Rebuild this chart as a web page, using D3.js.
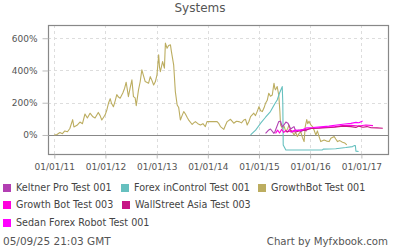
<!DOCTYPE html>
<html lang="en">
  <head>
    <meta charset="UTF-8">
    <title>Systems</title>
    <script src="https://cdn.jsdelivr.net/npm/d3@7"></script>
    <style>
      html, body { margin: 0; padding: 0; background: #fff; }
      body { font-family: 'DejaVu Sans', sans-serif; }
      svg { display: block; }
    </style>
  </head>
  <body>
    <script>
      // series names and colours (legend order)
      const seriesNames = ['Keltner Pro Test 001', 'Forex inControl Test 001', 'GrowthBot Test 001',
        'Growth Bot Test 003', 'WallStreet Asia Test 003', 'Sedan Forex Robot Test 001'];
      const seriesColors = ['#b23fb2', '#66c0bf', '#bcad60', '#ff00dd', '#c71585', '#ff00ff'];

      // GrowthBot Test 001 (gain %)
      const growthBotDates = ['2011-01-01','2011-01-20','2011-02-10','2011-02-28','2011-03-17','2011-04-05','2011-04-22','2011-05-12','2011-05-21','2011-06-12',
        '2011-07-03','2011-07-21','2011-08-08','2011-08-25','2011-09-13','2011-10-01','2011-10-19','2011-11-11','2011-11-24','2011-12-06',
        '2011-12-19','2011-12-30','2012-01-11','2012-01-24','2012-02-04','2012-02-14','2012-02-27','2012-03-10','2012-03-22','2012-04-03',
        '2012-04-15','2012-05-04','2012-05-17','2012-05-28','2012-06-13','2012-06-25','2012-07-08','2012-07-19','2012-07-31','2012-08-08',
        '2012-08-24','2012-09-05','2012-09-17','2012-09-28','2012-10-11','2012-11-04','2012-11-16','2012-11-27','2012-12-10','2012-12-22',
        '2013-01-03','2013-01-15','2013-01-21','2013-01-27','2013-02-12','2013-02-25','2013-03-04','2013-03-16','2013-03-27','2013-04-09',
        '2013-04-16','2013-05-02','2013-05-14','2013-05-27','2013-06-07','2013-06-19','2013-07-01','2013-07-13','2013-07-25','2013-08-06',
        '2013-08-19','2013-09-11','2013-09-22','2013-10-04','2013-10-22','2013-11-09','2013-11-27','2013-12-14','2013-12-26','2014-03-08',
        '2014-03-21','2014-04-01','2014-04-25','2014-05-07','2014-05-19','2014-06-12','2014-07-05','2014-07-24','2014-08-10','2014-08-29',
        '2014-09-15','2014-09-27','2014-10-09','2014-10-22','2014-11-02','2014-11-25','2014-12-07','2014-12-19','2015-01-01','2015-01-13',
        '2015-01-25','2015-02-07','2015-02-17','2015-03-01','2015-03-12','2015-03-24','2015-04-06','2015-04-18','2015-04-24','2015-04-29',
        '2015-05-11','2015-05-22','2015-05-30','2015-06-04','2015-06-18','2015-06-29','2015-07-12','2015-07-25','2015-08-03','2015-08-15',
        '2015-08-27','2015-09-08','2015-09-20','2015-10-02','2015-10-15','2015-10-26','2015-11-07','2015-11-19','2015-11-27','2015-12-08',
        '2015-12-15','2015-12-24','2016-01-06','2016-01-18','2016-01-29','2016-02-11','2016-02-22','2016-03-05','2016-03-17','2016-04-10',
        '2016-04-28','2016-05-16','2016-05-28','2016-06-21','2016-07-02','2016-07-15','2016-07-31','2016-08-19','2016-09-05','2016-09-19'];
      const growthBotValues = [0, 3, 15, 8, 25, 20, 40, 95, 50, 60,
        80, 70, 130, 105, 135, 115, 105, 140, 120, 93,
        110, 125, 155, 200, 225, 195, 175, 210, 250, 235,
        228, 260, 290, 327, 238, 290, 342, 238, 230, 182,
        280, 330, 404, 370, 331, 321, 362, 340, 310, 330,
        373, 497, 420, 393, 455, 414, 570, 538, 555, 559,
        517, 435, 269, 186, 170, 93, 120, 145, 130, 110,
        90, 65, 75, 83, 70, 62, 70, 52, 83, 83,
        70, 52, 35, 60, 83, 97, 73, 85, 83, 75,
        93, 97, 62, 85, 114, 135, 120, 145, 176, 150,
        145, 170, 197, 215, 259, 240, 248, 321, 290, 280,
        300, 248, 150, 62, 40, 55, 20, 40, 62, 30,
        20, 0, 15, -10, 10, 20, -15, -41, 50, 95,
        70, 85, 62, 52, 31, 0, 25, -10, -41, -31,
        -38, -41, -21, -10, -25, -41, -35, -45, -50, -62];

      // Forex inControl Test 001
      const forexDates = ['2014-11-02','2014-12-08','2015-01-13','2015-02-17','2015-03-24','2015-04-22','2015-05-11','2015-05-28','2015-06-09','2015-06-16',
        '2015-06-20','2015-06-23','2015-07-12','2015-10-26','2016-03-29','2016-04-04','2016-07-02','2016-09-12','2016-10-30','2016-11-11',
        '2016-11-19','2016-11-23','2016-12-12'];
      const forexValues = [0, 30, 73, 110, 145, 190, 217, 260, 285, 300,
        200, -62, -93, -93, -93, -88, -85, -78, -72, -66,
        -66, -100, -103];

      // Keltner Pro Test 001
      const keltnerDates = ['2015-02-17','2015-03-12','2015-03-24','2015-04-18','2015-04-26','2015-05-22','2015-06-04','2015-06-16','2015-06-28','2015-07-12',
        '2015-07-27','2015-08-15','2015-09-08','2015-09-20','2015-10-13','2015-10-26','2015-11-16','2015-12-08'];
      const keltnerValues = [10, 31, 37, 10, 23, 83, 85, 50, 62, 80,
        73, 37, 52, 25, 31, 20, 30, 25];

      // Growth Bot Test 003
      const growthBot3Dates = ['2015-04-29','2015-05-14','2015-05-28','2015-06-12','2015-06-26','2015-07-12','2015-07-24','2015-08-07','2015-08-22','2015-09-13',
        '2015-10-04','2015-10-26','2015-12-01','2016-01-06','2016-03-04','2016-04-28','2016-06-25','2016-08-21','2016-10-18','2016-12-14',
        '2017-02-02','2017-03-25'];
      const growthBot3Values = [10, 30, 12, 35, 15, 28, 18, 35, 22, 30,
        25, 32, 35, 40, 45, 48, 52, 58, 60, 56,
        62, 58];

      // WallStreet Asia Test 003
      const wallStreetDates = ['2015-07-12','2015-08-15','2015-09-20','2015-10-26','2015-12-01','2016-01-06','2016-03-04','2016-04-28','2016-06-25','2016-08-21',
        '2016-10-18','2016-11-23','2016-12-14','2017-01-12','2017-02-10','2017-03-11','2017-04-22','2017-06-03'];
      const wallStreetValues = [20, 25, 18, 28, 30, 40, 42, 45, 48, 55,
        52, 47, 55, 48, 52, 45, 44, 42];

      // Sedan Forex Robot Test 001
      const sedanDates = ['2015-08-15','2015-09-20','2015-10-26','2015-12-08','2016-01-20','2016-03-17','2016-05-14','2016-07-09','2016-09-05','2016-10-18',
        '2016-11-23','2016-12-14','2017-01-10'];
      const sedanValues = [15, 30, 28, 45, 46, 50, 55, 62, 68, 72,
        78, 76, 87];

      const yTicks = [0, 200, 400, 600];
      const xTickDates = ['2011-01-01','2012-01-01','2013-01-01','2014-01-01','2015-01-01','2016-01-01','2017-01-01'];
      const xDomain = ['2010-11-17', '2017-07-10'];
      const yDomain = [-118, 682];
      const titleText = 'Systems';
      const footerLeft = '05/09/25 21:03 GMT';
      const footerRight = 'Chart by Myfxbook.com';

      const parse = d3.utcParse('%Y-%m-%d');
      const zip = (dates, values) => dates.map((d, i) => ({ date: parse(d), value: values[i] }));

      // drawing order: GrowthBot underneath, pinks on top
      const series = [
        { idx: 2, data: zip(growthBotDates, growthBotValues) },
        { idx: 1, data: zip(forexDates, forexValues) },
        { idx: 0, data: zip(keltnerDates, keltnerValues) },
        { idx: 3, data: zip(growthBot3Dates, growthBot3Values) },
        { idx: 4, data: zip(wallStreetDates, wallStreetValues) },
        { idx: 5, data: zip(sedanDates, sedanValues) }
      ];

      const width = 400, height = 250;
      const plot = { left: 48, right: 388, top: 25, bottom: 154 };

      const svg = d3.select('body').append('svg')
        .attr('width', width)
        .attr('height', height);

      const x = d3.scaleUtc().domain(xDomain.map(parse)).range([plot.left, plot.right]);
      const y = d3.scaleLinear().domain(yDomain).range([plot.bottom, plot.top]);

      svg.append('text')
        .attr('x', 200).attr('y', 12)
        .attr('text-anchor', 'middle')
        .attr('font-size', 12)
        .attr('fill', '#555')
        .text(titleText);

      // grid
      const grid = svg.append('g');
      grid.selectAll('.vgrid').data(xTickDates.map(parse)).enter().append('line')
        .attr('x1', d => Math.round(x(d)) + 0.5).attr('x2', d => Math.round(x(d)) + 0.5)
        .attr('y1', plot.top).attr('y2', plot.bottom)
        .attr('stroke', '#ddd').attr('stroke-dasharray', '3,3');
      grid.selectAll('.hgrid').data(yTicks.filter(v => v !== 0)).enter().append('line')
        .attr('x1', plot.left).attr('x2', plot.right)
        .attr('y1', d => Math.round(y(d)) + 0.5).attr('y2', d => Math.round(y(d)) + 0.5)
        .attr('stroke', '#ddd').attr('stroke-dasharray', '3,3');

      // zero line
      svg.append('line')
        .attr('x1', plot.left).attr('x2', plot.right)
        .attr('y1', Math.round(y(0)) + 0.5).attr('y2', Math.round(y(0)) + 0.5)
        .attr('stroke', '#888').attr('stroke-width', 1.2);

      // lines
      const line = d3.line().x(d => x(d.date)).y(d => y(d.value));
      svg.append('g').selectAll('path').data(series).enter().append('path')
        .attr('d', d => line(d.data))
        .attr('fill', 'none')
        .attr('stroke', d => seriesColors[d.idx])
        .attr('stroke-width', 1.1)
        .attr('stroke-linejoin', 'round');

      // frame
      svg.append('rect')
        .attr('x', plot.left + 0.5).attr('y', plot.top + 0.5)
        .attr('width', plot.right - plot.left).attr('height', plot.bottom - plot.top)
        .attr('fill', 'none').attr('stroke', '#888').attr('stroke-width', 1.2);

      // axes
      const xAxis = d3.axisBottom(x)
        .tickValues(xTickDates.map(parse))
        .tickFormat(d3.utcFormat('%m/%d/%y'))
        .tickSize(4).tickPadding(5);
      const gx = svg.append('g')
        .attr('transform', `translate(0,${plot.bottom + 0.5})`)
        .call(xAxis);
      gx.select('.domain').remove();

      const yAxis = d3.axisLeft(y)
        .tickValues(yTicks)
        .tickFormat(d => d + '%')
        .tickSize(6).tickPadding(5);
      const gy = svg.append('g')
        .attr('transform', `translate(${plot.left + 0.5},0)`)
        .call(yAxis);
      gy.select('.domain').remove();

      svg.selectAll('.tick text')
        .attr('font-family', 'DejaVu Sans, sans-serif')
        .attr('font-size', 9)
        .attr('fill', '#555');
      svg.selectAll('.tick line').attr('stroke', '#bbb');

      // legend
      const legendPos = [[3, 188], [121, 188], [258, 188], [3, 205], [122, 205], [3, 223]];
      const legend = svg.append('g').selectAll('g').data(seriesNames).enter().append('g')
        .attr('transform', (d, i) => `translate(${legendPos[i][0]},${legendPos[i][1]})`);
      legend.append('rect')
        .attr('x', 0).attr('y', -4).attr('width', 8).attr('height', 8)
        .attr('fill', (d, i) => seriesColors[i]);
      legend.append('text')
        .attr('x', 13).attr('y', 0)
        .attr('dy', '0.35em')
        .attr('font-size', 9.6)
        .attr('fill', '#444')
        .text(d => d);

      // footer
      svg.append('text')
        .attr('x', 3).attr('y', 241).attr('dy', '0.35em')
        .attr('font-size', 10.5).attr('fill', '#555')
        .text(footerLeft);
      svg.append('text')
        .attr('x', 388).attr('y', 241).attr('dy', '0.35em')
        .attr('text-anchor', 'end')
        .attr('font-size', 10.2).attr('fill', '#555')
        .text(footerRight);
    </script>
  </body>
</html>
